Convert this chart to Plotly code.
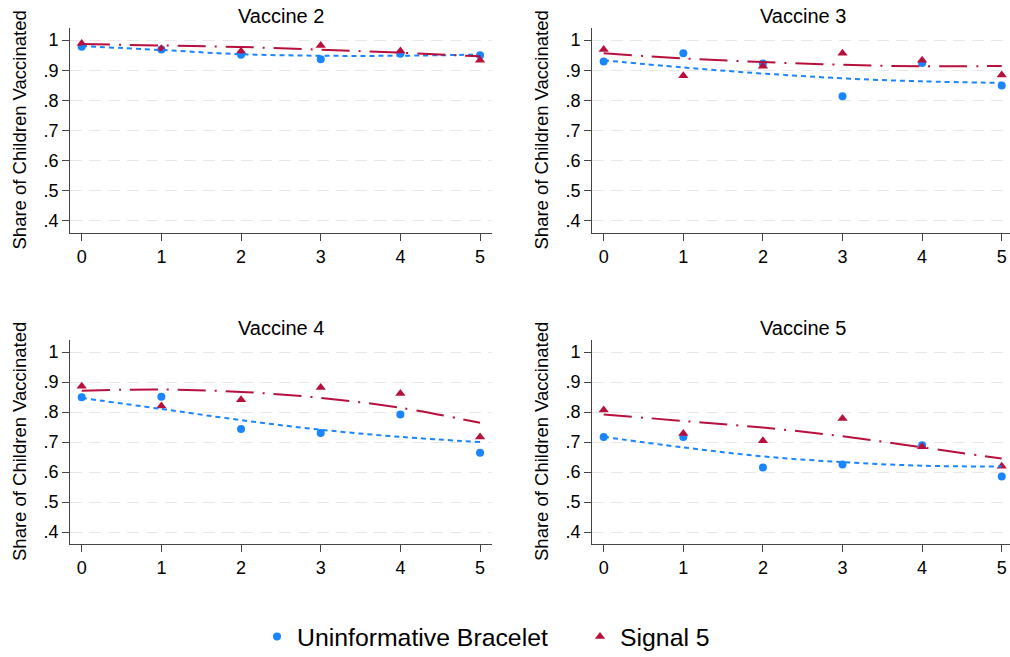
import plotly.graph_objects as go

# ---------------- data ----------------
x_vals = [0, 1, 2, 3, 4, 5]
panel_titles = ["Vaccine 2", "Vaccine 3", "Vaccine 4", "Vaccine 5"]
y_ticks = [0.4, 0.5, 0.6, 0.7, 0.8, 0.9, 1.0]
y_tick_labels = [".4", ".5", ".6", ".7", ".8", ".9", "1"]
series_names = ["Uninformative Bracelet", "Signal 5"]

uninf_v2 = [0.978, 0.969, 0.951, 0.936, 0.955, 0.950]
signal_v2 = [0.989, 0.971, 0.963, 0.982, 0.964, 0.933]
uninf_fit_v2 = [0.980, 0.967, 0.953, 0.948, 0.948, 0.952]
signal_fit_v2 = [0.987, 0.982, 0.977, 0.968, 0.958, 0.946]

uninf_v3 = [0.929, 0.956, 0.922, 0.814, 0.924, 0.849]
signal_v3 = [0.969, 0.882, 0.913, 0.956, 0.933, 0.884]
uninf_fit_v3 = [0.933, 0.909, 0.889, 0.873, 0.863, 0.858]
signal_fit_v3 = [0.956, 0.939, 0.927, 0.918, 0.913, 0.914]

uninf_v4 = [0.849, 0.851, 0.743, 0.730, 0.792, 0.664]
signal_v4 = [0.886, 0.820, 0.841, 0.882, 0.862, 0.717]
uninf_fit_v4 = [0.847, 0.810, 0.773, 0.741, 0.717, 0.700]
signal_fit_v4 = [0.871, 0.875, 0.867, 0.847, 0.814, 0.764]

uninf_v5 = [0.717, 0.717, 0.615, 0.625, 0.689, 0.585]
signal_v5 = [0.807, 0.728, 0.704, 0.778, 0.684, 0.619]
uninf_fit_v5 = [0.717, 0.682, 0.652, 0.633, 0.621, 0.618]
signal_fit_v5 = [0.792, 0.770, 0.748, 0.719, 0.682, 0.645]

uninf = [uninf_v2, uninf_v3, uninf_v4, uninf_v5]
signal = [signal_v2, signal_v3, signal_v4, signal_v5]
uninf_fit = [uninf_fit_v2, uninf_fit_v3, uninf_fit_v4, uninf_fit_v5]
signal_fit = [signal_fit_v2, signal_fit_v3, signal_fit_v4, signal_fit_v5]

# ---------------- styling / layout ----------------
W, H = 1010, 657
BLUE = "#1a85ff"
RED = "#b8103c"
FONT = "Liberation Sans, Arial, Helvetica, sans-serif"
AXIS_COL = "#444444"

# plot-area pixel boxes (left, right, top, bottom)
boxes = [
    (70, 492, 28, 233),
    (592, 1010, 28, 233),
    (70, 492, 340, 544),
    (592, 1010, 340, 544),
]
x_ranges = [[-0.147, 5.15], [-0.147, 5.104], [-0.147, 5.15], [-0.147, 5.104]]
title_x = [281, 803]

fig = go.Figure()

for i in range(4):
    xa = "x" if i == 0 else f"x{i+1}"
    ya = "y" if i == 0 else f"y{i+1}"
    fig.add_trace(go.Scatter(
        x=x_vals, y=uninf[i], xaxis=xa, yaxis=ya, mode="markers",
        marker=dict(symbol="circle", size=8, color=BLUE),
        name=series_names[0], showlegend=(i == 0), legendgroup="u",
        cliponaxis=False))
    fig.add_trace(go.Scatter(
        x=x_vals, y=signal[i], xaxis=xa, yaxis=ya, mode="markers",
        marker=dict(symbol="triangle-up", size=9, color=RED),
        name=series_names[1], showlegend=(i == 0), legendgroup="s",
        cliponaxis=False))
    fig.add_trace(go.Scatter(
        x=x_vals, y=uninf_fit[i], xaxis=xa, yaxis=ya, mode="lines",
        line=dict(color=BLUE, width=2, dash="5px,4px", shape="spline"),
        showlegend=False, hoverinfo="skip"))
    fig.add_trace(go.Scatter(
        x=x_vals, y=signal_fit[i], xaxis=xa, yaxis=ya, mode="lines",
        line=dict(color=RED, width=2, dash="28px,9px,2px,9px", shape="spline"),
        showlegend=False, hoverinfo="skip"))

layout = dict(
    width=W, height=H,
    margin=dict(l=0, r=0, t=0, b=0, pad=0, autoexpand=False),
    paper_bgcolor="white", plot_bgcolor="white",
    font=dict(family=FONT, color="black"),
    legend=dict(orientation="h", x=257 / W, xanchor="left",
                y=1 - 637 / H, yanchor="middle",
                font=dict(size=24.8, family=FONT), entrywidth=278,
                bgcolor="rgba(0,0,0,0)"),
    annotations=[],
)

for i, (l, r, t, b) in enumerate(boxes):
    sx = "" if i == 0 else str(i + 1)
    layout["xaxis" + sx] = dict(
        domain=[l / W, r / W], anchor="y" + sx, range=x_ranges[i],
        tickvals=x_vals, ticks="outside", ticklen=7, tickcolor=AXIS_COL,
        showline=True, linecolor=AXIS_COL, linewidth=1, showgrid=False,
        zeroline=False, automargin=False,
        tickfont=dict(size=18, family=FONT, color="black"),
        fixedrange=True)
    layout["yaxis" + sx] = dict(
        domain=[1 - b / H, 1 - t / H], anchor="x" + sx, range=[0.36, 1.04],
        tickvals=y_ticks, ticktext=y_tick_labels, ticks="outside", ticklen=7,
        tickcolor=AXIS_COL, showline=True, linecolor=AXIS_COL, linewidth=1,
        showgrid=True, gridcolor="#e8e8e8", gridwidth=1, griddash="12px,7px",
        zeroline=False, automargin=False,
        tickfont=dict(size=18, family=FONT, color="black"),
        fixedrange=True)
    # panel title
    layout["annotations"].append(dict(
        text=panel_titles[i], xref="paper", yref="paper",
        x=title_x[i % 2] / W, y=1 - (t - 12) / H, xanchor="center",
        yanchor="middle", showarrow=False,
        font=dict(size=20, family=FONT, color="black")))
    # y-axis title
    layout["annotations"].append(dict(
        text="Share of Children Vaccinated", xref="paper", yref="paper",
        x=(l - 51) / W, y=1 - ((t + b) / 2) / H, xanchor="center",
        yanchor="middle", textangle=-90, showarrow=False,
        font=dict(size=18.5, family=FONT, color="black")))

fig.update_layout(**layout)
fig.write_html(
    "out.html",
    config={"displayModeBar": False},
    post_script="document.body.style.margin='0px';document.body.style.overflow='hidden';",
)
